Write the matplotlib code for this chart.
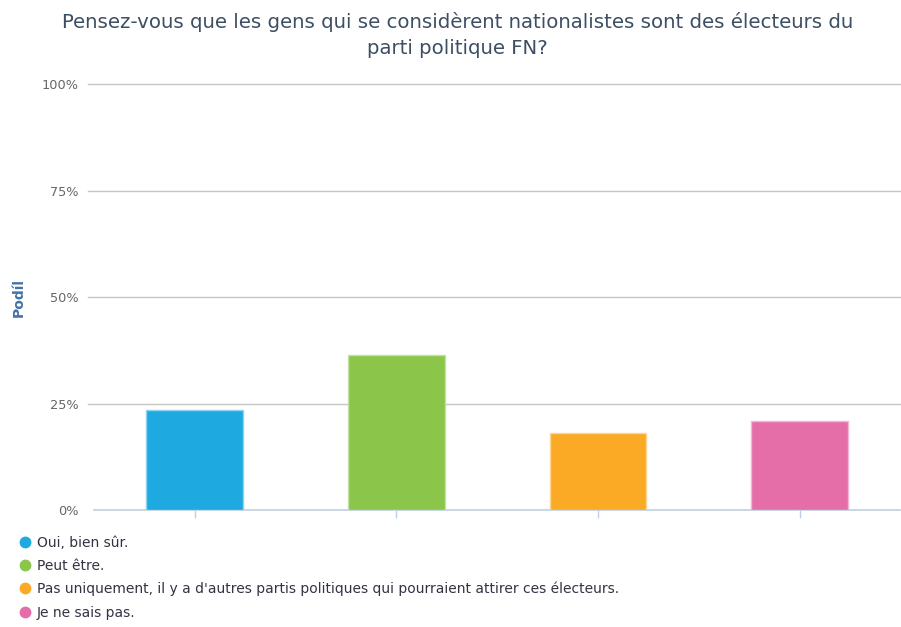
import matplotlib.pyplot as plt
from matplotlib.lines import Line2D

# answers and share of respondents (%)
answers = [
    "Oui, bien sûr.",
    "Peut être.",
    "Pas uniquement, il y a d'autres partis politiques qui pourraient attirer ces électeurs.",
    "Je ne sais pas.",
]
shares = [23.5, 36.5, 18.1, 21.0]
colors = ["#1fa9e1", "#8bc64a", "#fbaa26", "#e56ea9"]
edge_colors = ["#8ed4f0", "#c3e2a3", "#fdd592", "#f2b6d4"]
yticks = [0, 25, 50, 75, 100]
ytick_labels = ["0%", "25%", "50%", "75%", "100%"]

plt.rcParams['font.family'] = ['DejaVu Sans']

fig = plt.figure(figsize=(9.01, 6.27), dpi=100)
ax = fig.add_axes([0.1043, 0.1866, 0.895, 0.6794])

x = range(len(answers))
ax.bar(x, shares, width=0.48, color=colors, edgecolor=edge_colors, linewidth=1, zorder=3)

ax.set_xlim(-0.5, len(answers) - 0.5)
ax.set_ylim(0, 100)
ax.set_yticks(yticks)
ax.set_yticklabels(ytick_labels, fontsize=9.3, color="#666666")
ax.set_xticks(list(x))
ax.set_xticklabels([])
ax.tick_params(axis='y', length=0, pad=11)
ax.tick_params(axis='x', length=6, color="#c0d0e0", width=1)

for y in yticks[1:]:
    ax.axhline(y, xmin=-0.007, color="#c6c6c6", linewidth=1, zorder=1, clip_on=False)
for side in ["left", "right", "top"]:
    ax.spines[side].set_visible(False)
ax.spines["bottom"].set_color("#c0d0e0")
ax.spines["bottom"].set_linewidth(1.2)

fig.text(0.021, 0.526, "Podíl", rotation=90, ha="center", va="center",
         fontsize=10, fontweight="bold", color="#4572a7")

fig.text(0.508, 0.944,
         "Pensez-vous que les gens qui se considèrent nationalistes sont des électeurs du\nparti politique FN?",
         ha="center", va="center", fontsize=14.2, color="#3d4f63", linespacing=1.45)

handles = [Line2D([0], [0], marker="o", linestyle="none", markersize=7.5,
                  markerfacecolor=c, markeredgecolor=c) for c in colors]
fig.legend(handles, answers, loc="upper left", bbox_to_anchor=(0.012, 0.157),
           frameon=False, fontsize=10, labelcolor="#333344", handletextpad=0.35,
           labelspacing=0.66, borderpad=0, handlelength=1.0)

fig.savefig("out.png", dpi=100)
